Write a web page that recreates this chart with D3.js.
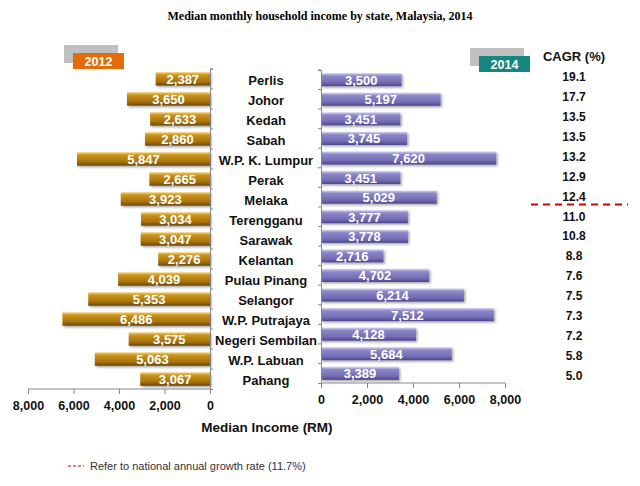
<!DOCTYPE html>
<html>
<head>
<meta charset="utf-8">
<title>Median monthly household income by state, Malaysia, 2014</title>
<script src="https://cdn.jsdelivr.net/npm/d3@7"></script>
<style>
  body { margin: 0; background: #fff; }
  svg { display: block; }
  text { font-family: "Liberation Sans", Arial, sans-serif; }
  .title { font-family: "Liberation Serif", "Times New Roman", serif; font-weight: bold; font-size: 12px; }
  .state { font-weight: bold; font-size: 13px; fill: #111; }
  .val { font-weight: bold; font-size: 13px; fill: #fff; }
  .tick text { font-weight: bold; font-size: 12.5px; fill: #111; }
  .cagr { font-weight: bold; font-size: 12px; fill: #111; }
</style>
</head>
<body>
<div id="chart"></div>
<script>
var states = ["Perlis", "Johor", "Kedah", "Sabah", "W.P. K. Lumpur", "Perak", "Melaka",
  "Terengganu", "Sarawak", "Kelantan", "Pulau Pinang", "Selangor", "W.P. Putrajaya",
  "Negeri Sembilan", "W.P. Labuan", "Pahang"];
var income2012 = [2387, 3650, 2633, 2860, 5847, 2665, 3923, 3034, 3047, 2276, 4039, 5353, 6486, 3575, 5063, 3067];
var income2014 = [3500, 5197, 3451, 3745, 7620, 3451, 5029, 3777, 3778, 2716, 4702, 6214, 7512, 4128, 5684, 3389];
var cagr = ["19.1", "17.7", "13.5", "13.5", "13.2", "12.9", "12.4", "11.0", "10.8", "8.8", "7.6", "7.5", "7.3", "7.2", "5.8", "5.0"];
var tickValues = [0, 2000, 4000, 6000, 8000];
var years = ["2012", "2014"];
var nationalRate = 11.7;

var width = 640, height = 486;
var fmt = d3.format(",");

var svg = d3.select("#chart").append("svg")
  .attr("width", width).attr("height", height);

var defs = svg.append("defs");
function grad(id, stops) {
  var g = defs.append("linearGradient").attr("id", id)
    .attr("x1", 0).attr("y1", 0).attr("x2", 0).attr("y2", 1);
  stops.forEach(function(s) {
    g.append("stop").attr("offset", s[0]).attr("stop-color", s[1]);
  });
}
grad("gold", [["0%", "#f2d073"], ["22%", "#c9921c"], ["70%", "#a8730c"], ["100%", "#6b4705"]]);
grad("purple", [["0%", "#d6d3f2"], ["22%", "#8c86c9"], ["70%", "#746db3"], ["100%", "#4d468c"]]);
var f = defs.append("filter").attr("id", "shadow")
  .attr("x", "-5%").attr("y", "-20%").attr("width", "115%").attr("height", "160%");
f.append("feDropShadow").attr("dx", 1.5).attr("dy", 1.5)
  .attr("stdDeviation", 1).attr("flood-color", "#000").attr("flood-opacity", 0.35);

// title
svg.append("text").attr("class", "title")
  .attr("x", 320).attr("y", 20).attr("text-anchor", "middle")
  .text("Median monthly household income by state, Malaysia, 2014");

// scales
var xLeft = d3.scaleLinear().domain([0, 8000]).range([210, 28]);
var xRight = d3.scaleLinear().domain([0, 8000]).range([321, 505]);
var yLeft = d3.scaleBand().domain(states).range([69, 389]).paddingInner(0.33).paddingOuter(0.16);
var yRight = d3.scaleBand().domain(states).range([70, 383]).paddingInner(0.33).paddingOuter(0.16);
var yCagr = d3.scaleBand().domain(states).range([67, 386]);

// left bars (2012)
var left = svg.append("g");
left.selectAll("rect").data(states).enter().append("rect")
  .attr("x", function(d, i) { return xLeft(income2012[i]); })
  .attr("y", function(d) { return yLeft(d); })
  .attr("width", function(d, i) { return xLeft(0) - xLeft(income2012[i]); })
  .attr("height", yLeft.bandwidth())
  .attr("fill", "url(#gold)")
  .attr("filter", "url(#shadow)");
left.selectAll("text").data(states).enter().append("text").attr("class", "val")
  .attr("x", function(d, i) { return (xLeft(0) + xLeft(income2012[i])) / 2; })
  .attr("y", function(d) { return yLeft(d) + yLeft.bandwidth() / 2 + 5; })
  .attr("text-anchor", "middle")
  .text(function(d, i) { return fmt(income2012[i]); });

// right bars (2014)
var right = svg.append("g");
right.selectAll("rect").data(states).enter().append("rect")
  .attr("x", xRight(0))
  .attr("y", function(d) { return yRight(d); })
  .attr("width", function(d, i) { return xRight(income2014[i]) - xRight(0); })
  .attr("height", yRight.bandwidth())
  .attr("fill", "url(#purple)")
  .attr("filter", "url(#shadow)");
right.selectAll("text").data(states).enter().append("text").attr("class", "val")
  .attr("x", function(d, i) { return (xRight(0) + xRight(income2014[i])) / 2; })
  .attr("y", function(d) { return yRight(d) + yRight.bandwidth() / 2 + 5; })
  .attr("text-anchor", "middle")
  .text(function(d, i) { return fmt(income2014[i]); });

// vertical category axes, ticks at band boundaries
var yAxL = svg.append("g").attr("transform", "translate(210,0)")
  .call(d3.axisRight(yLeft).tickSize(3).tickFormat(""));
var yAxR = svg.append("g").attr("transform", "translate(321,0)")
  .call(d3.axisLeft(yRight).tickSize(3).tickFormat(""));
yAxL.selectAll(".tick").attr("transform", null);
yAxR.selectAll(".tick").attr("transform", null);
yAxL.selectAll(".tick line").attr("transform", function(d) {
  return "translate(0," + (yLeft(d) - yLeft.step() * yLeft.paddingInner() / 2) + ")";
});
yAxR.selectAll(".tick line").attr("transform", function(d) {
  return "translate(0," + (yRight(d) - yRight.step() * yRight.paddingInner() / 2) + ")";
});
[yAxL, yAxR].forEach(function(a) {
  a.selectAll("path, line").attr("stroke", "#888");
});

// state labels
svg.append("g").selectAll("text").data(states).enter().append("text").attr("class", "state")
  .attr("x", 266)
  .attr("y", function(d) { return yLeft(d) + yLeft.bandwidth() / 2 + 6; })
  .attr("text-anchor", "middle")
  .text(function(d) { return d; });

// x axes
var axL = svg.append("g").attr("transform", "translate(0,389)")
  .call(d3.axisBottom(xLeft).tickValues(tickValues).tickSize(5).tickPadding(7).tickFormat(fmt));
var axR = svg.append("g").attr("transform", "translate(0,383)")
  .call(d3.axisBottom(xRight).tickValues(tickValues).tickSize(5).tickPadding(7).tickFormat(fmt));
[axL, axR].forEach(function(a) {
  a.selectAll("path, line").attr("stroke", "#888");
});
axL.select(".domain").attr("d", "M" + xLeft(8000) + ",0H" + xLeft(0));
axR.select(".domain").attr("d", "M" + xRight(0) + ",0H" + xRight(8000));

svg.append("text").attr("x", 267).attr("y", 432).attr("text-anchor", "middle")
  .style("font-weight", "bold").style("font-size", "13.5px").attr("fill", "#111")
  .text("Median Income (RM)");

// legend boxes
var legendPos = [{x: 64, y: 45, c: "#e36c09"}, {x: 470, y: 48, c: "#168680"}];
var lg = svg.append("g").selectAll("g").data(years).enter().append("g")
  .attr("transform", function(d, i) { return "translate(" + legendPos[i].x + "," + legendPos[i].y + ")"; });
lg.append("rect").attr("width", 54).attr("height", 18).attr("fill", "#c0c0c0");
lg.append("rect").attr("x", 9).attr("y", 8).attr("width", 51).attr("height", 16)
  .attr("fill", function(d, i) { return legendPos[i].c; });
lg.append("text").attr("x", 34.5).attr("y", 21).attr("text-anchor", "middle")
  .attr("fill", "#fff").style("font-weight", "bold").style("font-size", "12.5px")
  .text(function(d) { return d; });

// CAGR column
svg.append("text").attr("x", 574).attr("y", 61).attr("text-anchor", "middle")
  .style("font-weight", "bold").style("font-size", "13px").attr("fill", "#111")
  .text("CAGR (%)");
svg.append("g").selectAll("text").data(states).enter().append("text").attr("class", "cagr")
  .attr("x", 574)
  .attr("y", function(d) { return yCagr(d) + yCagr.bandwidth() / 2 + 4; })
  .attr("text-anchor", "middle")
  .text(function(d, i) { return cagr[i]; });

// national growth rate line
var above = cagr.filter(function(v) { return +v > nationalRate; }).length;
var lineY = yCagr(states[above]) - 2;
svg.append("line").attr("x1", 531).attr("x2", 628).attr("y1", lineY).attr("y2", lineY)
  .attr("stroke", "#d40000").attr("stroke-width", 2).attr("stroke-dasharray", "7,5");

// footnote
svg.append("line").attr("x1", 68).attr("x2", 84).attr("y1", 466).attr("y2", 466)
  .attr("stroke", "#d40000").attr("stroke-width", 1).attr("stroke-dasharray", "3,2");
var fn = svg.append("text").attr("x", 90).attr("y", 470)
  .style("font-size", "11px").attr("fill", "#333");
fn.append("tspan").text("Refer to national annual growth rate ");
fn.append("tspan").attr("fill", "#1f2f6a").text("(" + nationalRate + "%)");
</script>
</body>
</html>
